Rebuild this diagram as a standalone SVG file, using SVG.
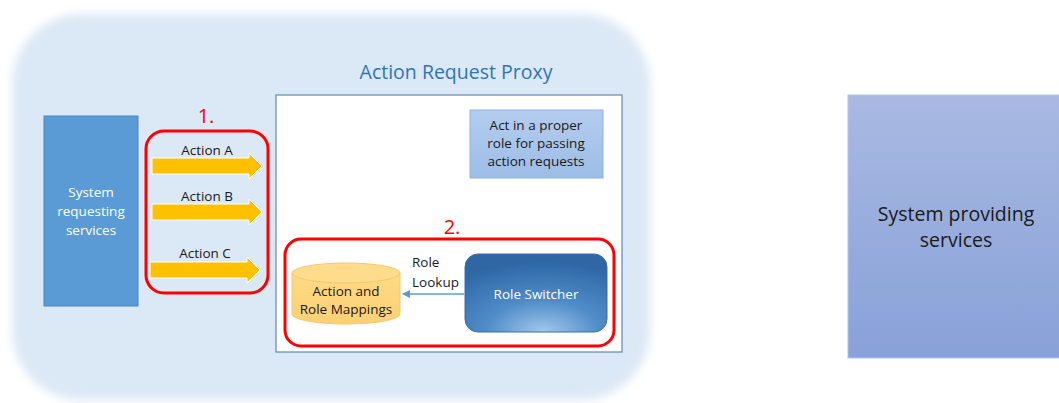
<svg xmlns="http://www.w3.org/2000/svg" width="1059" height="403" viewBox="0 0 1059 403">
  <defs>
    <filter id="soft" x="-10%" y="-10%" width="120%" height="120%">
      <feGaussianBlur stdDeviation="5"/>
    </filter>
    <linearGradient id="actGrad" x1="0" y1="0" x2="0" y2="1">
      <stop offset="0" stop-color="#b3cdef"/>
      <stop offset="1" stop-color="#9dbde6"/>
    </linearGradient>
    <linearGradient id="provGrad" x1="0" y1="0" x2="0" y2="1">
      <stop offset="0" stop-color="#a9b9e2"/>
      <stop offset="1" stop-color="#88a1d8"/>
    </linearGradient>
    <radialGradient id="switchGrad" cx="0.55" cy="1" r="0.9" fx="0.55" fy="1">
      <stop offset="0" stop-color="#a3c8ec"/>
      <stop offset="0.45" stop-color="#4f8cc8"/>
      <stop offset="1" stop-color="#2f67a5"/>
    </radialGradient>
    <linearGradient id="cylGrad" x1="0" y1="0" x2="0" y2="1">
      <stop offset="0" stop-color="#ffd985"/>
      <stop offset="1" stop-color="#fcd175"/>
    </linearGradient>
    <marker id="thinHead" markerWidth="8" markerHeight="8" refX="7" refY="4" orient="auto" markerUnits="userSpaceOnUse">
      <path d="M0,0 L8,4 L0,8 Z" fill="#5b9bd5"/>
    </marker>
    <style>
      .lbl { font-family: "Open Sans", "Noto Sans", "Liberation Sans", sans-serif; font-size: 13.5px; fill: #1a1a1a; text-anchor: middle; }
      .lbl-left { font-family: "Open Sans", "Noto Sans", "Liberation Sans", sans-serif; font-size: 13.5px; fill: #1a1a1a; text-anchor: start; }
      .wlbl { font-family: "Open Sans", "Noto Sans", "Liberation Sans", sans-serif; font-size: 13.5px; fill: #ffffff; text-anchor: middle; }
      .big { font-family: "Open Sans", "Noto Sans", "Liberation Sans", sans-serif; font-size: 19.5px; text-anchor: middle; }
      .num { font-family: "Open Sans", "Noto Sans", "Liberation Sans", sans-serif; font-size: 20px; fill: #ff0000; text-anchor: middle; }
      .redbox { fill: none; stroke: #ff0000; stroke-width: 3; }
      .action { fill: #ffc000; stroke: #ffffff; stroke-width: 1; }
    </style>
  </defs>

  <rect width="1059" height="403" fill="#ffffff"/>

  <!-- proxy background panel -->
  <g id="proxy-panel">
    <rect x="12" y="14" width="638" height="386" rx="70" fill="#dbe8f5" filter="url(#soft)"/>
    <text class="big" x="456" y="79" fill="#2e75b6">Action Request Proxy</text>
  </g>

  <!-- requesting system -->
  <g id="system-requesting">
    <rect x="44" y="116" width="94" height="190" fill="#5b9bd5" stroke="#4a86c0" stroke-width="1"/>
    <text class="wlbl" x="91" y="197">System</text>
    <text class="wlbl" x="91" y="216">requesting</text>
    <text class="wlbl" x="91" y="235">services</text>
  </g>

  <!-- incoming actions -->
  <g id="actions">
    <rect class="redbox" x="146" y="131" width="122" height="162" rx="18"/>
    <text class="num" x="206" y="123">1.</text>
    <text class="lbl" x="207" y="155">Action A</text>
    <path class="action" d="M152,158 L249,158 L249,153 L262,166 L249,179 L249,174 L152,174 Z"/>
    <text class="lbl" x="207" y="201">Action B</text>
    <path class="action" d="M152,204 L249,204 L249,199 L262,212 L249,225 L249,220 L152,220 Z"/>
    <text class="lbl" x="205" y="258">Action C</text>
    <path class="action" d="M150,262 L247,262 L247,257 L260,270 L247,283 L247,278 L150,278 Z"/>
  </g>

  <!-- proxy body -->
  <g id="proxy-body">
    <rect x="276" y="95" width="346" height="257" fill="#ffffff" stroke="#5f86b8" stroke-width="1.2"/>
  </g>

  <g id="act-note">
    <rect x="470" y="110" width="133" height="68" fill="url(#actGrad)" stroke="#8fb3e0" stroke-width="1"/>
    <text class="lbl" x="536" y="130">Act in a proper</text>
    <text class="lbl" x="536" y="148">role for passing</text>
    <text class="lbl" x="536" y="166">action requests</text>
  </g>

  <g id="role-group">
    <rect class="redbox" x="285" y="239" width="329" height="107" rx="16"/>
    <text class="num" x="452" y="234">2.</text>
  </g>

  <g id="mappings">
    <path d="M292,273 L292,314 A54,10 0 0 0 400,314 L400,273" fill="url(#cylGrad)" stroke="#f5c96a" stroke-width="1"/>
    <ellipse cx="346" cy="273" rx="54" ry="10" fill="#ffdb8c" stroke="#f5c96a" stroke-width="1"/>
    <text class="lbl" x="346" y="296">Action and</text>
    <text class="lbl" x="346" y="314">Role Mappings</text>
  </g>

  <g id="role-switcher">
    <rect x="465" y="254" width="142" height="78" rx="13" fill="url(#switchGrad)" stroke="#3b6fa8" stroke-width="1"/>
    <text class="wlbl" x="536" y="299">Role Switcher</text>
  </g>

  <!-- connectors -->
  <g id="connectors">
    <line x1="464" y1="294" x2="403" y2="294" stroke="#5b9bd5" stroke-width="1.3" marker-end="url(#thinHead)"/>
    <text class="lbl-left" x="412" y="267">Role</text>
    <text class="lbl-left" x="412" y="287">Lookup</text>
  </g>

  <!-- providing system -->
  <g id="system-providing">
    <rect x="848" y="95" width="212" height="263" fill="url(#provGrad)" stroke="#b4c6ea" stroke-width="1"/>
    <text class="big" x="956" y="221" fill="#1a1a1a">System providing</text>
    <text class="big" x="956" y="247" fill="#1a1a1a">services</text>
  </g>
</svg>
